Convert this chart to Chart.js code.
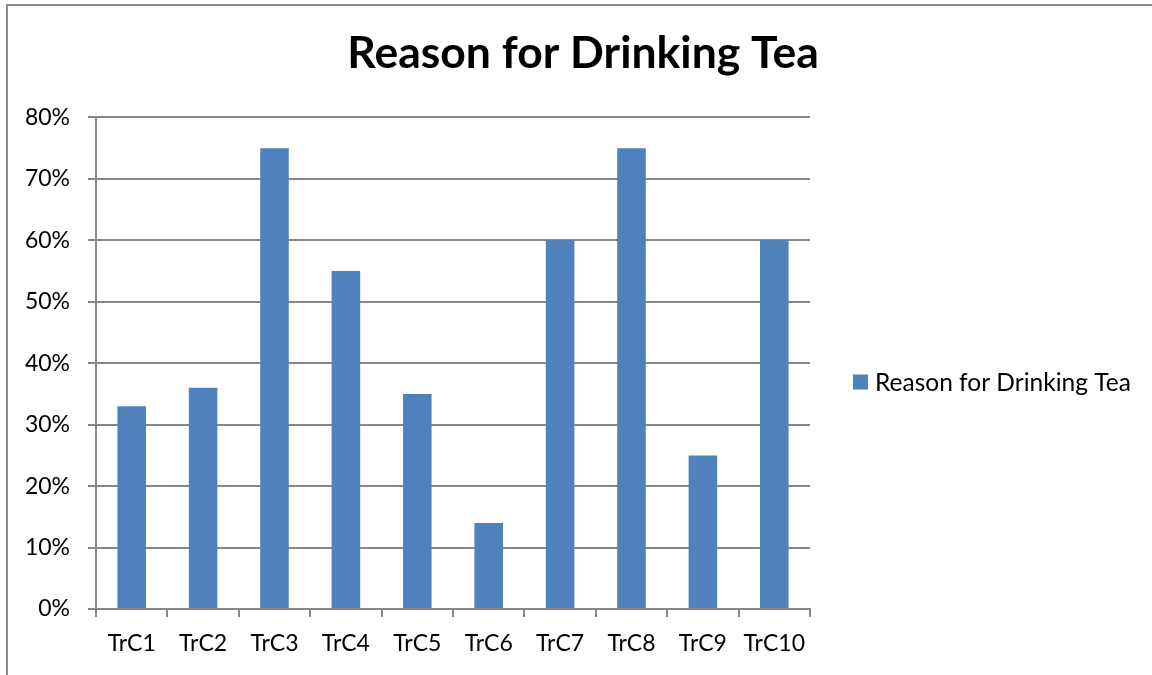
<!DOCTYPE html>
<html>
<head>
<meta charset="utf-8">
<script src="https://cdn.jsdelivr.net/npm/chart.js@4.4.1/dist/chart.umd.min.js"></script>
<style>
  html, body { margin: 0; padding: 0; background: #fff; overflow: hidden; }
  #wrap { position: relative; width: 1152px; height: 675px; }
</style>
</head>
<body>
<div id="wrap"><canvas id="teaChart" width="1152" height="675"></canvas></div>
<script>
const categories = ['TrC1', 'TrC2', 'TrC3', 'TrC4', 'TrC5', 'TrC6', 'TrC7', 'TrC8', 'TrC9', 'TrC10'];
const seriesName = 'Reason for Drinking Tea';
const shares = [0.33, 0.36, 0.75, 0.55, 0.35, 0.14, 0.60, 0.75, 0.25, 0.60];
const yTicks = [0, 0.1, 0.2, 0.3, 0.4, 0.5, 0.6, 0.7, 0.8];

const FONT = "Lato, 'Open Sans', sans-serif";
const GRID = '#878787';
const BAR = '#4F81BD';

// outer frame (only top and left edges visible in the shot)
const framePlugin = {
    id: 'frame',
    beforeDraw(chart) {
        const ctx = chart.ctx;
        ctx.save();
        ctx.strokeStyle = '#8a8a8a';
        ctx.lineWidth = 2;
        ctx.beginPath();
        ctx.moveTo(7, 680);
        ctx.lineTo(7, 5);
        ctx.lineTo(1160, 5);
        ctx.stroke();
        ctx.restore();
    }
};

// legend sits well away from the plot, like the Excel original
const sideLegend = {
    id: 'sideLegend',
    afterDraw(chart) {
        const ctx = chart.ctx;
        const ds = chart.data.datasets[0];
        const x = chart.chartArea.right + 43;
        const y = 382;
        ctx.save();
        ctx.fillStyle = ds.backgroundColor;
        ctx.fillRect(x, y - 7.5, 15, 15);
        ctx.fillStyle = '#000';
        ctx.font = '24.5px ' + FONT;
        ctx.textBaseline = 'middle';
        ctx.textAlign = 'left';
        ctx.fillText(ds.label, x + 22, y + 1);
        ctx.restore();
    }
};

const ctx = document.getElementById('teaChart').getContext('2d');
const teaChart = new Chart(ctx, {
    type: 'bar',
    data: {
        labels: categories,
        datasets: [{
            label: seriesName,
            data: shares,
            backgroundColor: BAR,
            borderWidth: 0,
            barPercentage: 0.4,
            categoryPercentage: 1.0
        }]
    },
    options: {
        responsive: false,
        animation: false,
        layout: { padding: { left: 14, right: 0, top: 0, bottom: 0 } },
        plugins: {
            title: {
                display: true,
                text: seriesName,
                color: '#000',
                font: { family: FONT, size: 44.5, weight: 'bold', lineHeight: 1.2 },
                padding: { top: 27, bottom: 37 }
            },
            legend: { display: false },
            tooltip: { enabled: false }
        },
        scales: {
            x: {
                grid: {
                    offset: true,
                    drawOnChartArea: false,
                    drawTicks: true,
                    tickLength: 8,
                    color: GRID,
                    lineWidth: 2
                },
                border: { color: GRID, width: 2 },
                ticks: {
                    color: '#000',
                    font: { family: FONT, size: 23 },
                    padding: 13,
                    maxRotation: 0
                },
                afterFit(scale) { scale.height = 66; }
            },
            y: {
                min: 0,
                max: 0.8,
                afterBuildTicks(scale) {
                    scale.ticks = yTicks.map(v => ({ value: v }));
                },
                grid: {
                    color: GRID,
                    lineWidth: 2,
                    tickLength: 8
                },
                border: { color: GRID, width: 2 },
                ticks: {
                    color: '#000',
                    font: { family: FONT, size: 23 },
                    padding: 18,
                    callback: v => Math.round(v * 100) + '%'
                },
                afterFit(scale) { scale.width = 82; }
            },
            // empty right-hand strip that holds the legend
            side: {
                position: 'right',
                display: true,
                min: 0,
                max: 1,
                grid: { display: false },
                border: { display: false },
                ticks: { display: false },
                afterFit(scale) { scale.width = 342; }
            }
        }
    },
    plugins: [framePlugin, sideLegend]
});
</script>
</body>
</html>
